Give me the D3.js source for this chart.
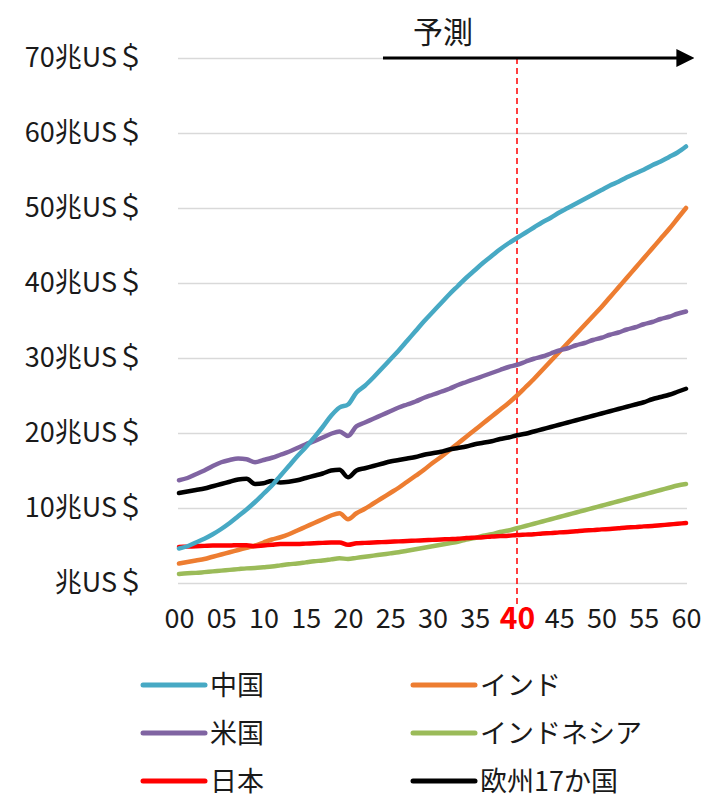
<!DOCTYPE html>
<html>
<head>
<meta charset="utf-8">
<script src="https://cdn.jsdelivr.net/npm/d3@7"></script>
<style>
  body { margin: 0; background: #fff; }
  text { font-family: "Noto Sans CJK JP", "Noto Sans", sans-serif; }
</style>
</head>
<body>
<script>
// years since 2000
var years = d3.range(0, 61);
var yTicks = [0, 10, 20, 30, 40, 50, 60, 70];
var xTicks = [0, 5, 10, 15, 20, 25, 30, 35, 40, 45, 50, 55, 60];
var forecastYear = 40;

var china = [4.6, 4.9, 5.4, 5.9, 6.5, 7.2, 8.0, 8.9, 9.8, 10.8, 11.9, 13.0, 14.3, 15.6, 16.9, 18.1, 19.4, 20.8, 22.3, 23.4,
  23.8, 25.4, 26.3, 27.4, 28.6, 29.8, 31.0, 32.3, 33.6, 34.9, 36.1, 37.3, 38.5, 39.6, 40.7, 41.7, 42.7, 43.6, 44.5, 45.3,
  46.0, 46.7, 47.4, 48.1, 48.7, 49.4, 50.0, 50.6, 51.2, 51.8, 52.4, 53.0, 53.5, 54.1, 54.6, 55.1, 55.7, 56.2, 56.8, 57.4, 58.2];
var usa = [13.7, 14.0, 14.5, 15.0, 15.6, 16.1, 16.4, 16.6, 16.5, 16.1, 16.4, 16.7, 17.1, 17.5, 18.0, 18.5, 18.9, 19.4, 19.9, 20.2,
  19.6, 20.9, 21.4, 21.9, 22.4, 22.9, 23.4, 23.8, 24.2, 24.7, 25.1, 25.5, 25.9, 26.4, 26.8, 27.2, 27.6, 28.0, 28.4, 28.8,
  29.1, 29.5, 29.9, 30.2, 30.6, 31.0, 31.3, 31.7, 32.0, 32.4, 32.7, 33.1, 33.4, 33.8, 34.1, 34.5, 34.8, 35.2, 35.5, 35.9, 36.2];
var japan = [4.8, 4.85, 4.9, 4.95, 5.0, 5.0, 5.0, 5.05, 5.05, 4.9, 5.0, 5.1, 5.2, 5.2, 5.2, 5.25, 5.3, 5.35, 5.4, 5.4,
  5.1, 5.3, 5.35, 5.4, 5.45, 5.5, 5.55, 5.6, 5.65, 5.7, 5.75, 5.8, 5.85, 5.9, 6.0, 6.05, 6.1, 6.2, 6.25, 6.3,
  6.4, 6.45, 6.5, 6.6, 6.65, 6.75, 6.8, 6.9, 7.0, 7.05, 7.15, 7.2, 7.3, 7.4, 7.45, 7.55, 7.6, 7.7, 7.8, 7.9, 8.0];
var india = [2.6, 2.8, 3.0, 3.2, 3.5, 3.8, 4.1, 4.4, 4.7, 5.0, 5.4, 5.8, 6.1, 6.5, 7.0, 7.5, 8.0, 8.5, 9.0, 9.3,
  8.5, 9.3, 9.9, 10.6, 11.3, 12.0, 12.7, 13.5, 14.3, 15.1, 16.0, 16.8, 17.7, 18.6, 19.5, 20.4, 21.3, 22.2, 23.1, 24.0,
  25.0, 26.1, 27.2, 28.4, 29.6, 30.8, 32.0, 33.2, 34.4, 35.6, 36.8, 38.1, 39.4, 40.7, 42.0, 43.3, 44.6, 45.9, 47.2, 48.6, 50.0];
var indonesia = [1.2, 1.3, 1.35, 1.45, 1.55, 1.65, 1.75, 1.85, 1.95, 2.0, 2.1, 2.2, 2.35, 2.5, 2.6, 2.75, 2.9, 3.0, 3.15, 3.3,
  3.2, 3.35, 3.5, 3.65, 3.8, 3.95, 4.1, 4.3, 4.5, 4.7, 4.9, 5.1, 5.3, 5.5, 5.8, 6.0, 6.3, 6.5, 6.8, 7.0,
  7.3, 7.6, 7.9, 8.2, 8.5, 8.8, 9.1, 9.4, 9.7, 10.0, 10.3, 10.6, 10.9, 11.2, 11.5, 11.8, 12.1, 12.4, 12.7, 13.0, 13.2];
var europe = [12.0, 12.2, 12.4, 12.6, 12.9, 13.2, 13.5, 13.8, 13.9, 13.2, 13.3, 13.6, 13.4, 13.5, 13.7, 14.0, 14.3, 14.6, 15.0, 15.1,
  14.1, 15.0, 15.3, 15.6, 15.9, 16.2, 16.4, 16.6, 16.8, 17.1, 17.3, 17.5, 17.8, 18.0, 18.2, 18.5, 18.7, 18.9, 19.2, 19.4,
  19.7, 19.9, 20.2, 20.5, 20.8, 21.1, 21.4, 21.7, 22.0, 22.3, 22.6, 22.9, 23.2, 23.5, 23.8, 24.1, 24.5, 24.8, 25.1, 25.5, 25.9];

var seriesNames = ["中国", "インド", "米国", "インドネシア", "日本", "欧州17か国"];
var seriesValues = [china, india, usa, indonesia, japan, europe];
var seriesColors = ["#47a9c4", "#ed7d31", "#8064a2", "#9bbb59", "#ff0000", "#000000"];
// drawing order (back to front)
var drawOrder = [3, 1, 4, 5, 2, 0];

var W = 706, H = 803;
var svg = d3.select("body").append("svg")
    .attr("width", W)
    .attr("height", H);

var x = d3.scaleLinear().domain([0, 60]).range([179, 686]);
var y = d3.scaleLinear().domain([0, 70]).range([583, 58]);

// grid + y labels
var yAxis = svg.append("g")
    .attr("transform", "translate(178,0)")
    .call(d3.axisLeft(y).tickValues(yTicks).tickSize(-509)
        .tickFormat(function(d) { return (d === 0 ? "" : d) + "兆US＄"; }));
yAxis.select(".domain").remove();
yAxis.selectAll(".tick line").attr("stroke", "#d9d9d9").attr("stroke-width", 1.5);
yAxis.selectAll(".tick text")
    .attr("x", -34)
    .attr("font-size", 27)
    .style("fill", "#1a1a1a");

// x labels
var xAxis = svg.append("g")
    .attr("transform", "translate(0,608)")
    .call(d3.axisBottom(x).tickValues(xTicks).tickSize(0)
        .tickFormat(d3.format("02d")));
xAxis.select(".domain").remove();
xAxis.selectAll(".tick text")
    .attr("font-size", 27)
    .style("fill", "#1a1a1a")
    .attr("dy", "0.72em")
    .attr("y", 1);
xAxis.selectAll(".tick text")
    .filter(function(d) { return d === forecastYear; })
    .style("fill", "#ff0000")
    .attr("font-weight", "bold")
    .attr("font-size", 30)
    .attr("y", -1);

// forecast line
svg.append("line")
    .attr("x1", x(forecastYear)).attr("x2", x(forecastYear))
    .attr("y1", y(70)).attr("y2", 606)
    .attr("stroke", "#ff0000")
    .attr("stroke-width", 1.5)
    .attr("stroke-dasharray", "6,4");

// lines
var line = d3.line()
    .x(function(d, i) { return x(years[i]); })
    .y(function(d) { return y(d); })
    .curve(d3.curveMonotoneX);

drawOrder.forEach(function(k) {
  svg.append("path")
      .attr("d", line(seriesValues[k]))
      .attr("fill", "none")
      .attr("stroke", seriesColors[k])
      .attr("stroke-width", 4.5)
      .attr("stroke-linecap", "round")
      .attr("stroke-linejoin", "round");
});

// forecast arrow
svg.append("defs").append("marker")
    .attr("id", "arrow")
    .attr("viewBox", "0 0 10 10")
    .attr("refX", 2).attr("refY", 5)
    .attr("markerWidth", 18).attr("markerHeight", 18)
    .attr("markerUnits", "userSpaceOnUse")
    .attr("orient", "auto")
    .append("path").attr("d", "M0,0L10,5L0,10Z").attr("fill", "#000");

svg.append("line")
    .attr("x1", 383).attr("x2", 680)
    .attr("y1", y(70)).attr("y2", y(70))
    .attr("stroke", "#000")
    .attr("stroke-width", 3)
    .attr("marker-end", "url(#arrow)");

svg.append("text")
    .attr("x", 443).attr("y", 43)
    .attr("text-anchor", "middle")
    .attr("font-size", 30)
    .style("fill", "#1a1a1a")
    .text("予測");

// legend
var legend = svg.append("g");
seriesNames.forEach(function(name, i) {
  var col = i % 2, row = Math.floor(i / 2);
  var lx = col === 0 ? 143 : 413;
  var ly = 685 + row * 48;
  legend.append("line")
      .attr("x1", lx).attr("x2", lx + 62)
      .attr("y1", ly).attr("y2", ly)
      .attr("stroke", seriesColors[i])
      .attr("stroke-width", 5)
      .attr("stroke-linecap", "round");
  legend.append("text")
      .attr("x", lx + 67).attr("y", ly)
      .attr("dy", "0.36em")
      .attr("font-size", 27)
      .style("fill", "#1a1a1a")
      .text(name);
});
</script>
</body>
</html>
